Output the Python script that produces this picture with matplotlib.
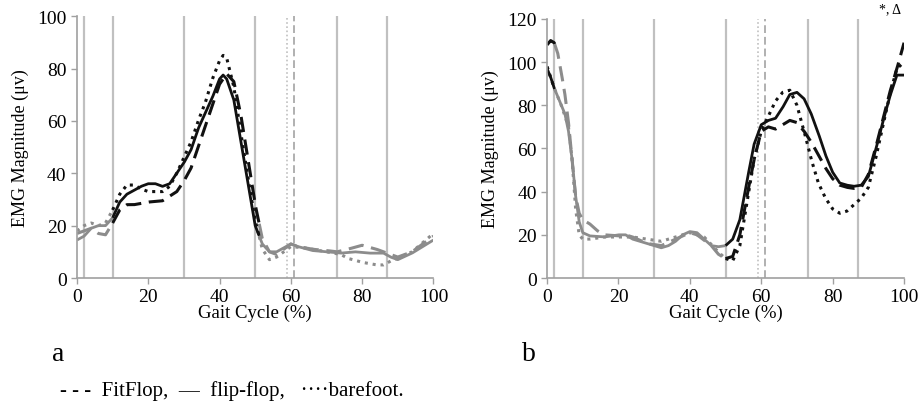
import numpy as np
import matplotlib.pyplot as plt

plt.rcParams['font.family'] = ['Liberation Serif', 'DejaVu Serif']

# panel a: gait cycle (%) and EMG magnitude
a_fit_x = [0, 2, 4, 6, 8, 10, 12, 14, 16, 20, 24, 28, 30, 32, 34, 36, 38, 40, 42, 44, 46, 48, 50, 52, 54, 56, 58, 60, 62, 66, 70, 73, 76, 80, 84, 88, 90, 94, 100]
a_fit_y = [17, 18, 19, 17, 16.5, 21, 26, 28, 28, 29, 29.5, 33, 37, 42, 50, 58, 66, 74, 78, 75, 62, 45, 28, 15, 10, 9, 11, 13, 12, 11, 10.5, 10, 11, 12.5, 11, 9, 8, 10, 16]

a_flip_x = [0, 2, 4, 6, 8, 10, 12, 14, 16, 18, 20, 22, 24, 26, 28, 30, 32, 34, 36, 38, 40, 41, 42, 44, 46, 48, 50, 52, 54, 56, 58, 60, 62, 66, 70, 74, 78, 82, 86, 88, 90, 94, 100]
a_flip_y = [14.5, 16, 19, 20, 20, 23, 29, 32, 33.5, 35, 36, 36, 35, 36, 40, 44, 49, 57, 63, 69, 76, 77.5, 76, 68, 52, 36, 20, 13, 10, 10, 11.5, 13, 12, 10.5, 10, 9.5, 10, 9.5, 9.5, 8, 7, 9.5, 14.5]

a_bare_x = [0, 2, 4, 6, 8, 10, 12, 14, 16, 18, 20, 24, 26, 28, 30, 32, 34, 36, 38, 40, 41, 42, 44, 46, 48, 50, 52, 54, 56, 58, 60, 64, 70, 74, 76, 80, 84, 86, 88, 90, 94, 100]
a_bare_y = [18, 20, 21, 20, 21, 26, 32, 35.5, 35.5, 34, 33, 33, 35, 40, 46, 52, 60, 67, 76, 83, 85, 84, 73, 55, 38, 22, 11, 7, 8, 10, 12, 11.5, 10, 9, 7.5, 6, 5, 5, 6.5, 7.5, 10, 17]

# panel b
b_fit_x = [0, 1, 2, 3, 4, 5, 6, 7, 8, 9, 10, 12, 14, 16, 20, 22, 24, 28, 32, 36, 40, 42, 46, 48, 50, 52, 54, 56, 58, 60, 62, 64, 66, 68, 70, 72, 74, 76, 78, 80, 82, 84, 86, 88, 90, 92, 94, 96, 98, 100]
b_fit_y = [108, 110, 109, 104, 95, 85, 72, 55, 38, 30, 27, 25, 22, 20, 19.5, 20, 19, 16, 15, 18, 21, 20, 15, 11, 9, 10, 20, 38, 55, 68, 70, 69, 71, 73, 72, 68, 63, 57, 51, 46, 43, 42, 41.5, 42, 48, 60, 73, 86, 97, 109]

b_flip_x = [0, 1, 2, 3, 4, 5, 6, 7, 8, 9, 10, 12, 16, 20, 22, 24, 28, 30, 32, 34, 36, 38, 40, 42, 44, 46, 48, 50, 52, 54, 56, 58, 60, 62, 64, 66, 68, 70, 72, 74, 76, 78, 80, 82, 84, 86, 88, 90, 92, 94, 96, 98, 100]
b_flip_y = [97, 93, 88, 84, 80, 76, 68, 55, 38, 26, 21, 19.5, 19, 20, 20, 18, 16, 15, 14, 15, 17, 20, 21.5, 21, 18, 15, 14.5, 15, 18, 27, 45, 62, 71, 73, 74, 79, 85, 86, 83, 76, 67, 57, 49, 44, 43, 42.5, 43, 47, 59, 72, 84, 94, 94]

b_bare_x = [0, 2, 4, 6, 7, 8, 9, 10, 12, 16, 20, 24, 28, 32, 36, 40, 44, 48, 50, 52, 54, 56, 58, 60, 62, 64, 66, 68, 70, 72, 74, 76, 78, 80, 82, 84, 86, 88, 90, 92, 94, 96, 98, 100]
b_bare_y = [98, 88, 80, 70, 55, 32, 20, 18, 18, 19, 19, 19, 18, 17, 19, 21, 19, 12, 9, 8, 15, 35, 55, 68, 75, 82, 86, 87, 80, 68, 55, 44, 37, 32, 30, 31, 34, 37, 42, 55, 70, 85, 97, 100]

phase_lines = [2, 10, 30, 50, 73, 87]
toe_off_bare = 59
toe_off_fit = 61

GRAY = '#8c8c8c'
BLACK = '#111111'


def draw(ax, x, y, style, lw, black_ranges):
    x = np.array(x, float)
    y = np.array(y, float)
    xs = np.linspace(0, 100, 801)
    ys = np.interp(xs, x, y)
    black = np.zeros_like(xs, bool)
    for lo, hi in black_ranges:
        black |= (xs >= lo) & (xs <= hi)
    # split into runs of same colour
    start = 0
    for i in range(1, len(xs) + 1):
        if i == len(xs) or black[i] != black[start]:
            end = min(i + 1, len(xs))
            ax.plot(xs[start:end], ys[start:end], linestyle=style, lw=lw,
                    color=BLACK if black[start] else GRAY, solid_capstyle='butt')
            start = i


def setup(ax, ymax, step):
    for v in phase_lines:
        ax.axvline(v, color='#c0c0c0', lw=1.6, zorder=0)
    ax.axvline(toe_off_bare, color='#c0c0c0', lw=1.2, ls=(0, (1, 1.5)), zorder=0)
    ax.axvline(toe_off_fit, color='#b0b0b0', lw=1.4, ls=(0, (4, 2)), zorder=0)
    ax.set_xlim(0, 100)
    ax.set_ylim(0, ymax)
    ax.set_xticks(range(0, 101, 20))
    ax.set_yticks(range(0, ymax + 1, step))
    for s in ['top', 'right']:
        ax.spines[s].set_visible(False)
    for s in ['left', 'bottom']:
        ax.spines[s].set_color('#a0a0a0')
        ax.spines[s].set_linewidth(1.2)
    ax.tick_params(colors='#a0a0a0', labelcolor='black', labelsize=14, length=4, width=1)
    ax.set_xlabel('Gait Cycle (%)', fontsize=13.5, labelpad=-1)
    ax.set_ylabel('EMG Magnitude (μv)', fontsize=13, labelpad=6)
    ax.margins(0)


fig = plt.figure(figsize=(9.21, 4.06), dpi=100)
ax1 = fig.add_axes([0.0836, 0.3128, 0.387, 0.645])
ax2 = fig.add_axes([0.594, 0.3128, 0.3876, 0.638])

setup(ax1, 100, 20)
draw(ax1, a_fit_x, a_fit_y, (0, (5, 2.5)), 2.2, [(10, 51)])
draw(ax1, a_flip_x, a_flip_y, '-', 2.0, [(10, 51)])
draw(ax1, a_bare_x, a_bare_y, (0, (1, 1.6)), 2.2, [(10, 51)])

setup(ax2, 120, 20)
draw(ax2, b_fit_x, b_fit_y, (0, (5, 2.5)), 2.2, [(0, 2), (50, 100)])
draw(ax2, b_flip_x, b_flip_y, '-', 2.0, [(0, 2), (50, 100)])
draw(ax2, b_bare_x, b_bare_y, (0, (1, 1.6)), 2.2, [(0, 2), (50, 100)])

fig.text(0.978, 0.993, '*, Δ', fontsize=10, ha='right', va='top')
fig.text(0.057, 0.11, 'a', fontsize=20)
fig.text(0.567, 0.11, 'b', fontsize=20)
fig.text(0.065, 0.025, '- - -  FitFlop,  —  flip-flop,   ····barefoot.', fontsize=15)

fig.savefig('out.png', dpi=100)
